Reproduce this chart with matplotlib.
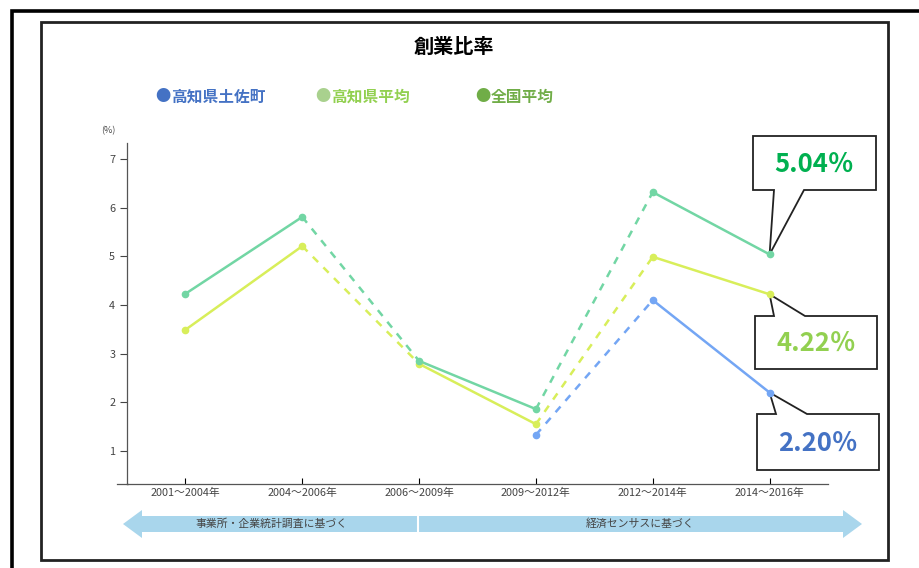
import matplotlib.pyplot as plt
from matplotlib.patches import Polygon, Rectangle
from matplotlib.lines import Line2D

plt.rcParams['font.family'] = ['Noto Sans CJK JP', 'DejaVu Sans']

# 期間
periods = ['2001～2004年', '2004～2006年', '2006～2009年', '2009～2012年', '2012～2014年', '2014～2016年']
# 創業比率 (%)
tosa = [None, None, None, 1.33, 4.10, 2.20]
kochi = [3.49, 5.21, 2.79, 1.55, 4.99, 4.22]
zenkoku = [4.23, 5.81, 2.85, 1.86, 6.32, 5.04]
# 調査が変わる区間は破線
seg_styles = ['-', '--', '-', '--', '-']

series_names = ['高知県土佐町', '高知県平均', '全国平均']
line_colors = ['#74a6f4', '#d8ee5a', '#72d6a4']
legend_dot = ['#4472c4', '#a9d18e', '#70ad47']
legend_txt = ['#4472c4', '#92d050', '#70ad47']
callout_txt = ['#4472c4', '#92d050', '#00b050']

W, H = 920, 568
fig = plt.figure(figsize=(W / 100, H / 100), dpi=100)

# 全体を覆うピクセル座標の作図用軸
bg = fig.add_axes([0, 0, 1, 1], zorder=0)
bg.set_xlim(0, W)
bg.set_ylim(H, 0)
bg.axis('off')

# 外枠と内枠
bg.plot([12, 12, W], [H, 11, 11], color='black', lw=2.6, solid_joinstyle='miter')
bg.add_patch(Rectangle((41, 22), 847, 538, fill=False, ec='#222222', lw=2))

ax = fig.add_axes([127 / W, (H - 484) / H, 701 / W, 341 / H], zorder=1)
ax.patch.set_alpha(0)
ax.set_xlim(-0.5, 5.5)
ax.set_ylim(0.32, 7.33)

for vals, col in [(kochi, line_colors[1]), (zenkoku, line_colors[2]), (tosa, line_colors[0])]:
    for i, ls in enumerate(seg_styles):
        if vals[i] is None or vals[i + 1] is None:
            continue
        ax.plot([i, i + 1], [vals[i], vals[i + 1]], ls=ls, color=col, lw=1.8,
                dashes=(3, 3) if ls == '--' else (None, None), solid_capstyle='round')
    xs = [i for i, v in enumerate(vals) if v is not None]
    ax.plot(xs, [vals[i] for i in xs], 'o', color=col, ms=4.5, zorder=3)

ax.set_xticks(range(len(periods)))
ax.set_xticklabels(periods, fontsize=7.8, color='#444444')
ax.set_yticks(range(1, 8))
ax.tick_params(axis='y', labelsize=7.8, colors='#444444', length=5, width=0.8, direction='out')
ax.tick_params(axis='x', length=4, width=0.8, direction='in', pad=3)
for s in ['top', 'right']:
    ax.spines[s].set_visible(False)
for s in ['left', 'bottom']:
    ax.spines[s].set_color('#555555')
    ax.spines[s].set_linewidth(0.9)
bg.add_line(Line2D([117, 128], [484, 484], color='#555555', lw=0.9))
bg.text(108, 131, '(%)', fontsize=6.5, color='#444444', ha='center', va='center')

# タイトルと凡例
bg.text(454, 46, '創業比率', fontsize=14.5, fontweight='bold', ha='center', va='center')
for x0, name, dc, tc in zip([155, 315, 475], series_names, legend_dot, legend_txt):
    bg.text(x0, 97, '●', color=dc, fontsize=11, va='center', ha='left')
    bg.text(x0 + 16, 97, name, color=tc, fontsize=11.3, fontweight='bold', va='center', ha='left')

# 吹き出し (最新値)
fig.canvas.draw()


def tip_px(v):
    px, py = ax.transData.transform((len(periods) - 1, v))
    return px, H - py


boxes = [
    (zenkoku[-1], callout_txt[2], (753, 136, 876, 190), 'below'),
    (kochi[-1], callout_txt[1], (755, 316, 877, 369), 'above'),
    (tosa[-1], callout_txt[0], (757, 414, 879, 470), 'above'),
]
for v, tc, (x0, y0, x1, y1), side in boxes:
    tx, ty = tip_px(v)
    if side == 'below':
        pts = [(x0, y0), (x1, y0), (x1, y1), (x0 + 51, y1), (tx, ty), (x0 + 21, y1), (x0, y1)]
    else:
        pts = [(x0, y1), (x0, y0), (x0 + 19, y0), (tx, ty), (x0 + 50, y0), (x1, y0), (x1, y1)]
    bg.add_patch(Polygon(pts, closed=True, fc='white', ec='#222222', lw=1.3, zorder=5))
    bg.text((x0 + x1) / 2, (y0 + y1) / 2 + 1, f'{v:.2f}％', color=tc, fontsize=18.5,
            fontweight='bold', ha='center', va='center', zorder=6)

# 調査区分の矢印
arrow_col = '#a9d6ec'
arrow = [(123, 524), (142, 510), (142, 516), (843, 516), (843, 510), (862, 524),
         (843, 538), (843, 532), (142, 532), (142, 538)]
bg.add_patch(Polygon(arrow, closed=True, fc=arrow_col, ec='none'))
bg.add_line(Line2D([418, 418], [515, 533], color='white', lw=1.5))
bg.text(272, 524, '事業所・企業統計調査に基づく', fontsize=7.8, color='#444444', ha='center', va='center')
bg.text(640, 524, '経済センサスに基づく', fontsize=7.8, color='#444444', ha='center', va='center')

fig.savefig('out.png', dpi=100)
